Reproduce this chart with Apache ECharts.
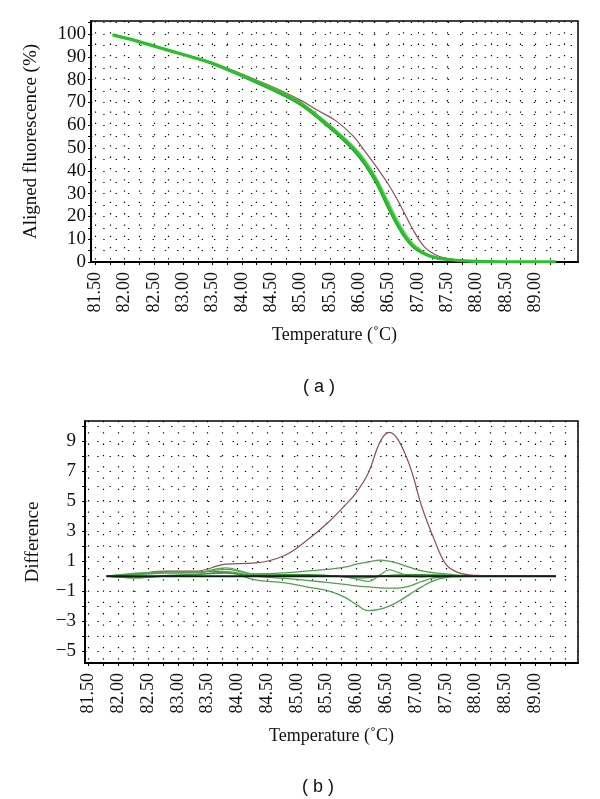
<!DOCTYPE html>
<html>
<head>
<meta charset="utf-8">
<script src="https://cdn.jsdelivr.net/npm/echarts@6/dist/echarts.min.js"></script>
<style>
html,body{margin:0;padding:0;background:#fff;}
#chart{width:600px;height:799px;}
</style>
</head>
<body>
<div id="chart"></div>
<script>
// ---------- tick labels ----------
var xTickLabels = [81.5, 82.0, 82.5, 83.0, 83.5, 84.0, 84.5, 85.0, 85.5, 86.0, 86.5, 87.0, 87.5, 88.0, 88.5, 89.0];
var yTickLabelsA = [0, 10, 20, 30, 40, 50, 60, 70, 80, 90, 100];
var yTickLabelsB = [-5, -3, -1, 1, 3, 5, 7, 9];

// ---------- panel (a): aligned fluorescence ----------
var tempA = [81.8, 82.2, 82.6, 83.0, 83.4, 83.8, 84.2, 84.6, 85.0, 85.3, 85.6, 85.9, 86.1, 86.3, 86.5, 86.7, 86.9, 87.1, 87.3, 87.5, 87.8, 88.2, 88.8, 89.35];
var redA   = [99.6, 97.0, 94.1, 91.1, 88.2, 84.5, 80.3, 76.0, 71.0, 66.4, 62.0, 55.2, 48.5, 41.5, 34.0, 25.0, 15.0, 7.0, 3.2, 1.6, 0.6, 0.2, 0.1, 0.1];
var greenA = [99.6, 97.0, 94.0, 91.0, 88.0, 84.0, 79.6, 75.0, 69.6, 63.6, 57.2, 49.8, 43.5, 35.2, 24.5, 14.7, 7.5, 3.8, 1.9, 1.1, 0.5, 0.2, 0.1, 0.1];
var greenB = [99.7, 97.2, 94.2, 91.2, 88.3, 84.4, 80.0, 75.5, 70.2, 64.4, 58.0, 51.0, 45.0, 36.8, 26.5, 16.5, 8.8, 4.5, 2.2, 1.2, 0.5, 0.2, 0.1, 0.1];
var greenC = [99.5, 96.9, 93.8, 90.8, 87.7, 83.6, 79.0, 74.3, 68.8, 62.8, 56.3, 48.8, 42.3, 33.8, 23.0, 13.5, 6.8, 3.4, 1.7, 1.0, 0.4, 0.2, 0.1, 0.1];

// ---------- panel (b): difference ----------
var tempB = [81.8, 82.3, 82.8, 83.3, 83.8, 84.3, 84.8, 85.2, 85.5, 85.8, 86.0, 86.2, 86.4, 86.55, 86.7, 86.9, 87.1, 87.3, 87.5, 87.7, 88.0, 88.5, 89.0, 89.35];
var redB = [0, 0.15, 0.33, 0.33, 0.8, 0.88, 1.4, 2.5, 3.5, 4.7, 5.6, 6.9, 9.0, 9.6, 9.1, 7.3, 4.6, 2.5, 0.8, 0.25, 0.05, 0, 0, 0];
var g1B  = [0, 0.1, 0.2, 0.22, 0.45, 0.15, 0.22, 0.35, 0.45, 0.6, 0.8, 0.95, 1.07, 1.0, 0.85, 0.58, 0.35, 0.22, 0.15, 0.06, 0.02, 0, 0, 0];
var g2B  = [0, -0.12, 0.05, 0.12, 0.25, -0.25, -0.45, -0.75, -0.95, -1.4, -1.9, -2.3, -2.2, -2.0, -1.7, -1.2, -0.7, -0.3, -0.1, -0.03, 0, 0, 0, 0];
var g3B  = [0, 0.15, 0.3, 0.3, 0.3, 0.0, -0.15, -0.3, -0.42, -0.55, -0.65, -0.72, -0.78, -0.8, -0.8, -0.65, -0.35, -0.12, -0.03, 0, 0, 0, 0, 0];
var g4B  = [0, 0.2, 0.25, 0.25, 0.55, 0.1, 0.05, 0.05, 0.02, -0.05, -0.2, -0.35, 0.1, 0.42, 0.25, 0.0, -0.05, 0.05, 0.08, 0.03, 0, 0, 0, 0];
var g5B  = [0, -0.1, 0.0, 0.1, 0.2, 0.05, 0.1, 0.1, 0.05, -0.05, -0.12, -0.1, 0.0, 0.05, 0.08, 0.1, 0.1, 0.08, 0.05, 0.02, 0, 0, 0, 0];
var zeroB = [0, 0, 0, 0, 0, 0, 0, 0, 0, 0, 0, 0, 0, 0, 0, 0, 0, 0, 0, 0, 0, 0, 0, 0];

// ---------- helpers ----------
function zip(xs, ys) { return xs.map(function (x, i) { return [x, ys[i]]; }); }
var gridX = []; for (var k = 0; k <= 32; k++) { gridX.push(81.5 + k * 0.25); }
var gridYA = []; for (var k = 0; k <= 21; k++) { gridYA.push(k * 5); }
var gridYB = []; for (var k = -5; k <= 10; k++) { gridYB.push(k); }

var serif = 'Liberation Serif';
var dotH = { color: '#000', width: 1.2, type: [1.3, 11] };
var dotV = { color: '#000', width: 1.2, type: [1.3, 10] };
function minus(v) { return v < 0 ? '\u2212' + Math.abs(v) : String(v); }

function xAxisFor(gi, min, max) {
  return {
    type: 'value', gridIndex: gi, min: min, max: max,
    name: 'Temperature (\u02DAC)', nameLocation: 'middle', nameGap: 64,
    nameTextStyle: { fontFamily: serif, fontSize: 18, color: '#111' },
    axisLine: { show: true, onZero: false, lineStyle: { color: '#000', width: 2 } },
    axisTick: { show: true, customValues: gridX, length: 3, lineStyle: { color: '#000' } },
    axisLabel: { customValues: xTickLabels, rotate: 90, margin: 10, fontFamily: serif, fontSize: 18, color: '#111',
      formatter: function (v) { return v.toFixed(2); } },
    splitLine: { show: true, lineStyle: dotV }
  };
}

function line(xi, xs, ys, color, width, z) {
  return { type: 'line', xAxisIndex: xi, yAxisIndex: xi, data: zip(xs, ys), smooth: 0.4,
    showSymbol: false, symbol: 'none', z: z || 2, lineStyle: { color: color, width: width }, silent: true };
}

var option = {
  backgroundColor: '#fff',
  animation: false,
  title: [
    { text: '( a )', left: 314, top: 373, textAlign: 'center',
      textStyle: { fontFamily: 'Liberation Sans', fontSize: 18, fontWeight: 'normal', color: '#111' } },
    { text: '( b )', left: 313, top: 773, textAlign: 'center',
      textStyle: { fontFamily: 'Liberation Sans', fontSize: 18, fontWeight: 'normal', color: '#111' } }
  ],
  grid: [
    { left: 91, top: 21, width: 487, height: 241, show: true, borderColor: '#000', borderWidth: 1.5, backgroundColor: '#fff' },
    { left: 85, top: 421, width: 493, height: 242, show: true, borderColor: '#000', borderWidth: 1.5, backgroundColor: '#fff' }
  ],
  xAxis: [xAxisFor(0, 81.43, 89.73), xAxisFor(1, 81.44, 89.72)],
  yAxis: [
    { type: 'value', gridIndex: 0, min: 0, max: 105.7,
      name: 'Aligned fluorescence (%)', nameLocation: 'middle', nameGap: 50,
      nameTextStyle: { fontFamily: serif, fontSize: 19, color: '#111' },
      axisLine: { show: true, lineStyle: { color: '#000', width: 2 } },
      axisTick: { show: true, customValues: gridYA, length: 3, lineStyle: { color: '#000' } },
      axisLabel: { customValues: yTickLabelsA, margin: 5, fontFamily: serif, fontSize: 19, color: '#111' },
      splitLine: { show: true, lineStyle: dotH } },
    { type: 'value', gridIndex: 1, min: -5.8, max: 10.36,
      name: 'Difference', nameLocation: 'middle', nameGap: 42,
      nameTextStyle: { fontFamily: serif, fontSize: 19, color: '#111' },
      axisLine: { show: true, onZero: false, lineStyle: { color: '#000', width: 2 } },
      axisTick: { show: true, customValues: gridYB, length: 3, lineStyle: { color: '#000' } },
      axisLabel: { customValues: yTickLabelsB, margin: 9, fontFamily: serif, fontSize: 19, color: '#111', formatter: minus },
      splitLine: { show: true, lineStyle: dotH } }
  ],
  series: [
    line(0, tempA, redA, '#8e5158', 1.2, 2),
    line(0, tempA, greenC, '#1d8a1d', 1.3, 3),
    line(0, tempA, greenB, '#7fd67f', 1.3, 3),
    line(0, tempA, greenA, '#2cbf2c', 3.2, 4),
    line(1, tempB, redB, '#8c5058', 1.2, 2),
    line(1, tempB, g1B, '#4f9f4f', 1.3, 3),
    line(1, tempB, g2B, '#4f9f4f', 1.3, 3),
    line(1, tempB, g3B, '#4f9f4f', 1.3, 3),
    line(1, tempB, g4B, '#58a858', 1.3, 3),
    line(1, tempB, g5B, '#3f8f3f', 1.3, 3),
    line(1, tempB, zeroB, '#0f1f0f', 2, 5)
  ]
};

var chart = echarts.init(document.getElementById('chart'), null, { renderer: 'canvas' });
chart.setOption(option);
</script>
</body>
</html>
